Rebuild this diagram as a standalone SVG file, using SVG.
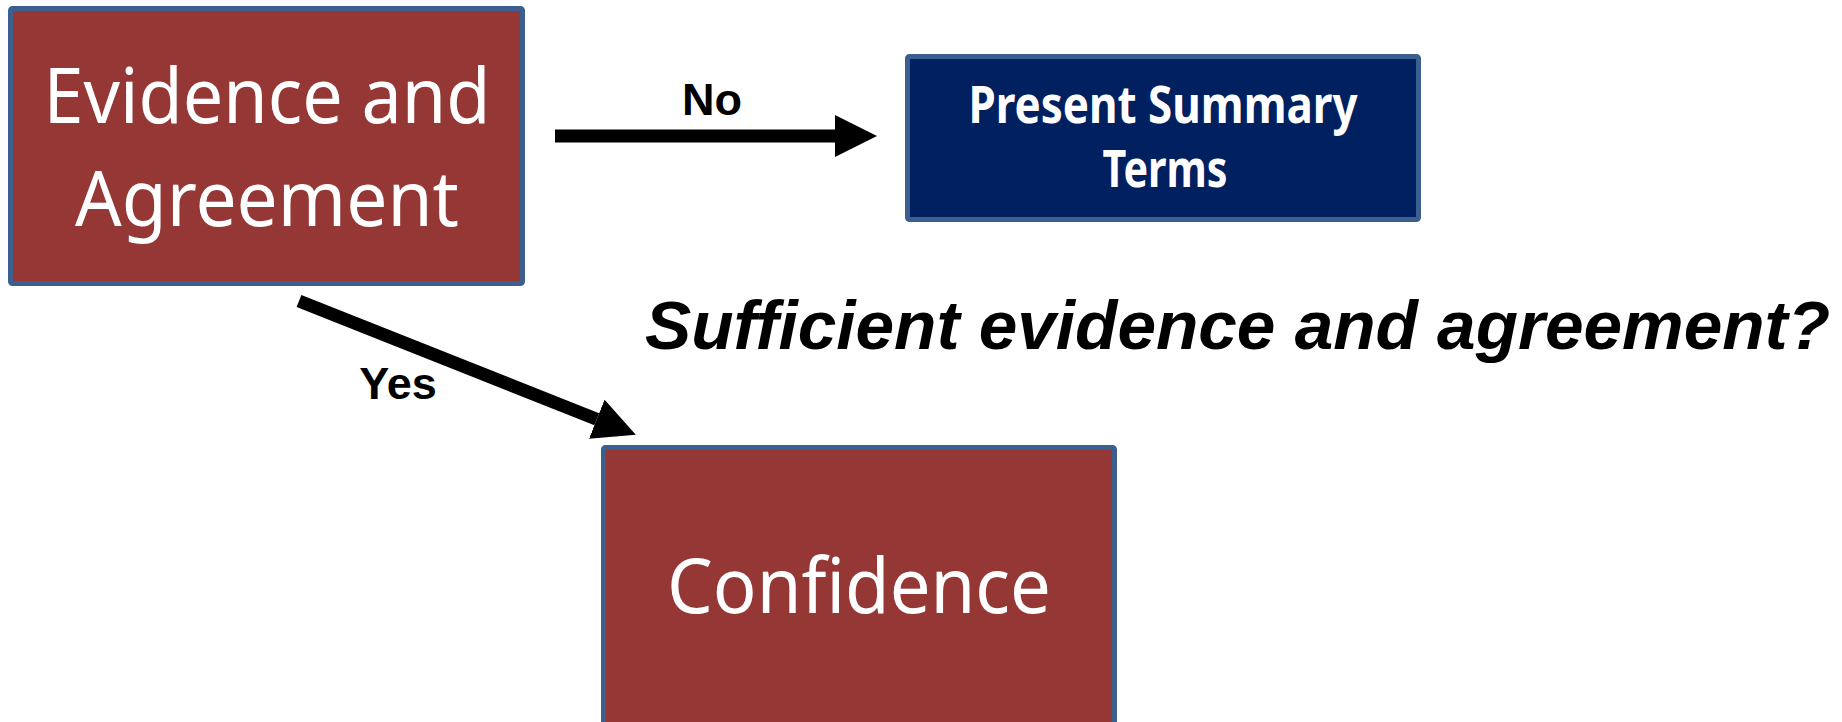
<svg xmlns="http://www.w3.org/2000/svg" width="1842" height="722" viewBox="0 0 1842 722">
<style>
.box{stroke:#3B6090;stroke-width:5}
.red{fill:#953735}
.navy{fill:#002060}
.t{font-family:"Noto Sans","Open Sans",sans-serif;fill:#ffffff;text-anchor:middle}
.lbl{font-family:"Liberation Sans",Arial,sans-serif;font-weight:bold;fill:#000000}
.conn{stroke:#000000;stroke-width:13;fill:none}
</style>
<defs>
<marker id="ah" markerUnits="userSpaceOnUse" markerWidth="42" markerHeight="42" refX="0" refY="20" orient="auto" viewBox="0 0 40 40">
<path d="M0,0 L40,20 L0,40 Z" fill="#000000"/>
</marker>
</defs>
<rect width="1842" height="722" fill="#ffffff"/>
<g id="connectors">
<line class="conn" x1="555" y1="136" x2="835" y2="136" marker-end="url(#ah)"/>
<line class="conn" x1="299" y1="301" x2="596.8" y2="419.2" marker-end="url(#ah)"/>
<text class="lbl" x="712" y="115" font-size="45" text-anchor="middle">No</text>
<text class="lbl" x="398" y="399" font-size="45" text-anchor="middle">Yes</text>
</g>
<g id="node-evidence">
<rect class="box red" x="10.5" y="8.5" width="512" height="275" rx="2"/>
<text class="t" x="267" y="123" font-size="76" textLength="447" lengthAdjust="spacingAndGlyphs">Evidence and</text>
<text class="t" x="267" y="226" font-size="76" textLength="384" lengthAdjust="spacingAndGlyphs">Agreement</text>
</g>
<g id="node-summary">
<rect class="box navy" x="907.5" y="56.5" width="511" height="163" rx="2"/>
<text class="t" x="1163" y="123" font-size="52" font-weight="bold" textLength="389" lengthAdjust="spacingAndGlyphs">Present Summary</text>
<text class="t" x="1165" y="187" font-size="52" font-weight="bold" textLength="125" lengthAdjust="spacingAndGlyphs">Terms</text>
</g>
<g id="node-confidence">
<rect class="box red" x="603.5" y="447.5" width="511" height="290" rx="2"/>
<text class="t" x="859" y="613" font-size="77" textLength="384" lengthAdjust="spacingAndGlyphs">Confidence</text>
</g>
<g id="question">
<text class="lbl" x="645" y="349" font-size="69" font-style="italic" textLength="1185" lengthAdjust="spacingAndGlyphs">Sufficient evidence and agreement?</text>
</g>
</svg>
